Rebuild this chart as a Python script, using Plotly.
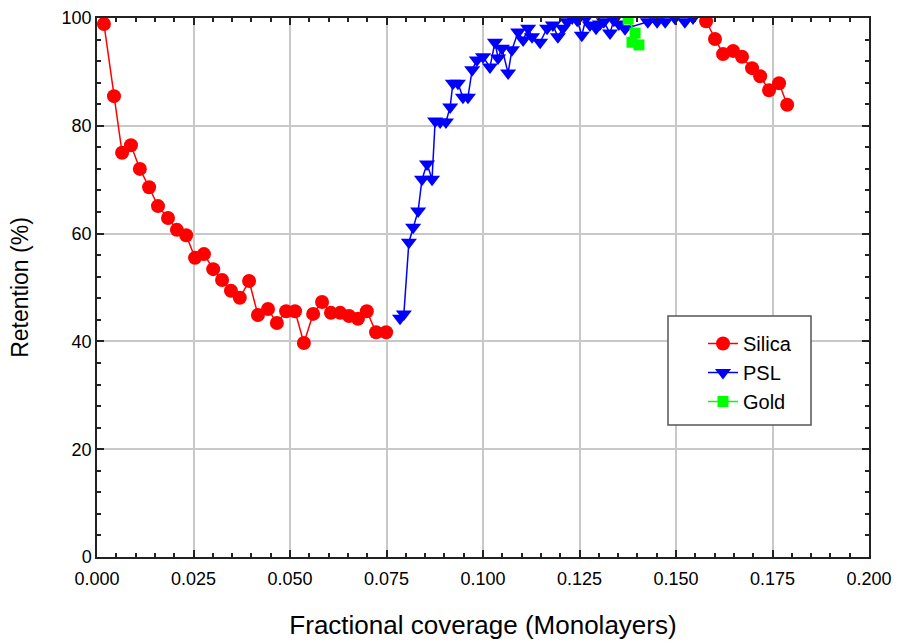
import plotly.graph_objects as go

# Silica retention vs fractional coverage (two runs, separated by a gap)
silica_x = [0.0018, 0.0044, 0.0065, 0.0088, 0.0111, 0.0135, 0.0158, 0.0184, 0.0207, 0.0231,
            0.0254, 0.0277, 0.0301, 0.0324, 0.0347, 0.0370, 0.0394, 0.0417, 0.0443, 0.0466,
            0.0490, 0.0513, 0.0536, 0.0560, 0.0583, 0.0606, 0.0630, 0.0653, 0.0676, 0.0699,
            0.0723, 0.0749, None,
            0.1578, 0.1601, 0.1622, 0.1648, 0.1671, 0.1697, 0.1718, 0.1741, 0.1767, 0.1788]
silica_y = [98.9, 85.5, 75.0, 76.4, 72.0, 68.6, 65.1, 62.9, 60.7, 59.7,
            55.5, 56.2, 53.4, 51.4, 49.4, 48.1, 51.2, 44.9, 46.0, 43.4,
            45.6, 45.6, 39.7, 45.1, 47.3, 45.3, 45.3, 44.7, 44.2, 45.6,
            41.7, 41.7, None,
            99.4, 96.1, 93.3, 93.9, 92.8, 90.7, 89.2, 86.6, 87.9, 83.9]

# PSL retention
psl_x = [0.0785, 0.0795, 0.0808, 0.0819, 0.0832, 0.0842, 0.0855, 0.0868, 0.0876, 0.0889,
         0.0904, 0.0915, 0.0922, 0.0935, 0.0948, 0.0961, 0.0972, 0.0984, 0.1000, 0.1018,
         0.1031, 0.1039, 0.1049, 0.1065, 0.1075, 0.1091, 0.1104, 0.1117, 0.1127, 0.1148,
         0.1166, 0.1181, 0.1194, 0.1207, 0.1218, 0.1231, 0.1244, 0.1256, 0.1267, 0.1277,
         0.1293, 0.1303, 0.1313, 0.1329, 0.1339, 0.1352, 0.1368, 0.1427, 0.1451, 0.1472,
         0.1497, 0.1523, 0.1544]
psl_y = [44.3, 45.1, 58.4, 61.2, 64.2, 70.1, 72.9, 70.1, 80.9, 80.7,
         80.7, 83.5, 87.9, 87.9, 85.3, 85.3, 90.4, 92.2, 92.8, 90.9,
         95.5, 92.6, 94.4, 89.8, 94.1, 97.4, 95.9, 98.1, 96.5, 95.5,
         98.1, 98.7, 96.5, 98.1, 99.3, 100.0, 99.6, 96.8, 100.0, 98.7,
         98.1, 98.9, 99.3, 97.2, 99.6, 98.9, 98.0, 99.3, 99.3, 99.3,
         100.0, 99.3, 100.0]

# Gold retention
gold_x = [0.1376, 0.1394, 0.1386, 0.1404]
gold_y = [99.8, 97.2, 95.5, 95.0]

x_ticks = [0.0, 0.025, 0.05, 0.075, 0.1, 0.125, 0.15, 0.175, 0.2]
y_ticks = [0, 20, 40, 60, 80, 100]

FONT = "Liberation Sans, Arial, sans-serif"

fig = go.Figure()
fig.add_trace(go.Scatter(
    x=silica_x, y=silica_y, name="Silica", mode="lines+markers",
    line=dict(color="#ff0000", width=1.5),
    marker=dict(symbol="circle", size=14, color="#ff0000"),
))
fig.add_trace(go.Scatter(
    x=psl_x, y=psl_y, name="PSL", mode="lines+markers",
    line=dict(color="#0000ff", width=1.5),
    marker=dict(symbol="triangle-down", size=14, color="#0000ff"),
))
fig.add_trace(go.Scatter(
    x=gold_x, y=gold_y, name="Gold", mode="lines+markers",
    line=dict(color="#00ff00", width=1.5),
    marker=dict(symbol="square", size=11, color="#00ff00"),
))

axis_common = dict(
    showline=True, linecolor="#222", linewidth=1.5, mirror="allticks",
    ticks="inside", ticklen=7, tickcolor="#222", tickwidth=1.5,
    showgrid=True, gridcolor="#c8c8c8", gridwidth=1.5,
    zeroline=False,
    tickfont=dict(family=FONT, size=18, color="black"),
)

fig.update_xaxes(
    range=[0, 0.2], tickvals=x_ticks, tickformat=".3f", ticklabelstandoff=5,
    minor=dict(dtick=0.005, ticks="inside", ticklen=4, tickcolor="#222", showgrid=False),
    title=dict(text="Fractional coverage (Monolayers)", font=dict(family=FONT, size=26, color="black"), standoff=27),
    **axis_common,
)
fig.update_yaxes(
    range=[0, 100], tickvals=y_ticks,
    minor=dict(dtick=4, ticks="inside", ticklen=4, tickcolor="#222", showgrid=False),
    title=dict(text="Retention (%)", font=dict(family=FONT, size=23, color="black"), standoff=27),
    **axis_common,
)

# Legend frame
fig.add_shape(type="rect", xref="paper", yref="paper",
              x0=(668 - 97) / 772, x1=(811 - 97) / 772,
              y0=(557 - 425) / 539, y1=(557 - 316) / 539,
              line=dict(color="#555", width=1.5), fillcolor="white", layer="above")

fig.update_layout(
    width=899, height=641,
    margin=dict(l=97, r=30, t=18, b=84, autoexpand=False),
    paper_bgcolor="white", plot_bgcolor="white",
    font=dict(family=FONT, color="black"),
    legend=dict(x=(703 - 97) / 772, y=(557 - 324) / 539, xanchor="left", yanchor="top",
                bgcolor="rgba(0,0,0,0)", borderwidth=0, tracegroupgap=0,
                font=dict(family=FONT, size=20, color="black")),
)

fig.write_html("out.html")
